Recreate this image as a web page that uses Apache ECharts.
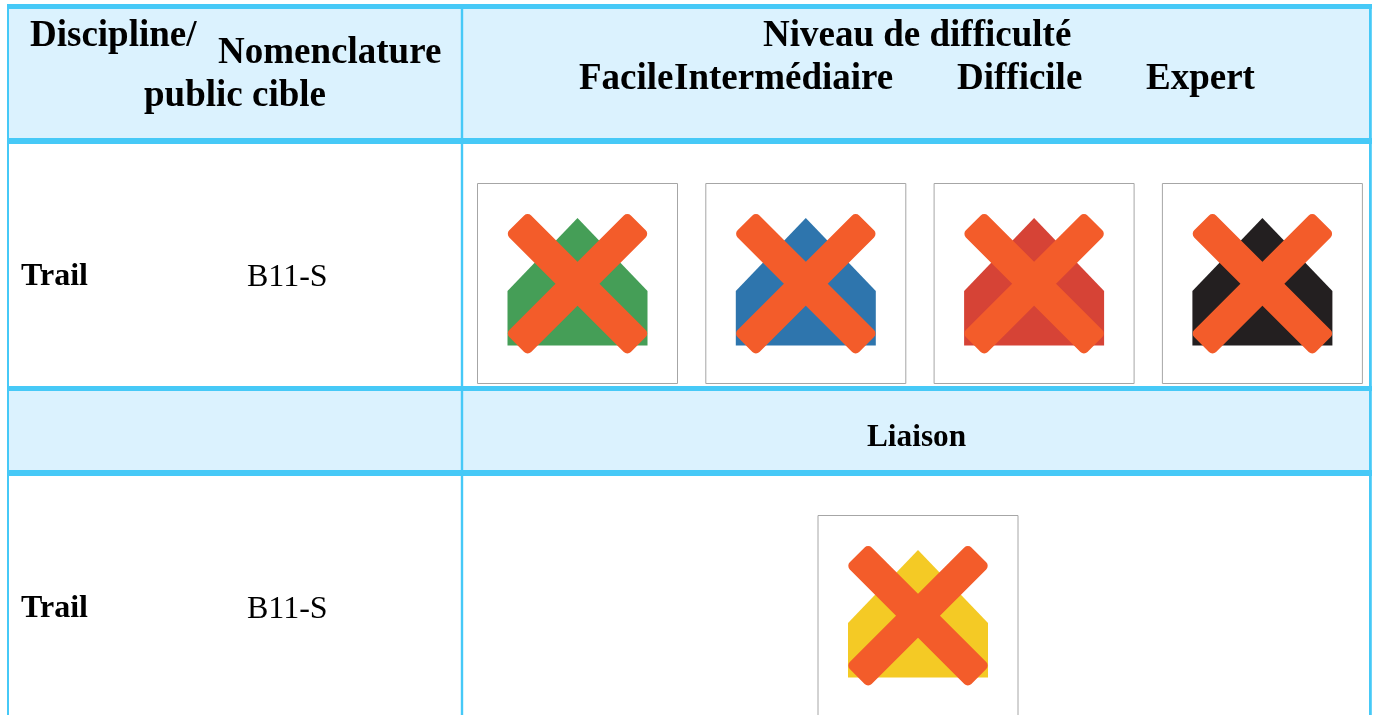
<!DOCTYPE html>
<html lang="fr">
<head>
    <meta charset="UTF-8">
    <title>Niveau de difficulté</title>
    <script src="https://cdn.jsdelivr.net/npm/echarts@6/dist/echarts.min.js"></script>
    <style>
        html, body { margin: 0; padding: 0; background: #fff; overflow: hidden; }
        #main { width: 1376px; height: 715px; }
    </style>
</head>
<body>
    <div id="main"></div>
    <script>
        // table content
        const levels = ['Facile', 'Intermédiaire', 'Difficile', 'Expert'];
        const levelColors = ['#459e57', '#2e75ad', '#d64336', '#231f20'];
        const liaisonColor = '#f4ca25';
        const crossColor = '#f35c2a';
        const discipline = 'Trail';
        const code = 'B11-S';

        // layout of the table, in page pixels
        const bandColor = '#dbf2fe';
        const ruleColor = '#46c9f7';
        const boxColor = '#a6a6a6';
        const leftX = 8, midX = 462, rightX = 1370.4;
        const bands = [[4, 141], [388, 473]];
        const rules = [
            [7, 6.5, 1372, 6.5, 5], [7, 141, 1372, 141, 6], [7, 388.5, 1372, 388.5, 5], [7, 473, 1372, 473, 6],
            [leftX, 4, leftX, 715, 2], [midX, 7, midX, 715, 2.4], [rightX, 4, rightX, 715, 2.8]
        ];
        const signs = levelColors.map((c, i) => ({ color: c, cx: 577.5 + 228.3 * i, top: 183.5 }))
            .concat([{ color: liaisonColor, cx: 918, top: 515.5 }]);
        const serif = '"Liberation Serif", "Times New Roman", serif';
        // text, x, baseline y, weight, size
        const labels = [
            ['Discipline/', 30, 47, 'bold', 37],
            ['Nomenclature', 218, 64, 'bold', 37],
            ['public cible', 144, 107, 'bold', 37],
            ['Niveau de difficulté', 763, 47, 'bold', 37],
            [levels[0], 579, 90, 'bold', 37],
            [levels[1], 674, 90, 'bold', 37],
            [levels[2], 957, 90, 'bold', 37],
            [levels[3], 1146, 90, 'bold', 37],
            [discipline, 21, 286, 'bold', 32],
            [code, 247, 287, 'normal', 32],
            ['Liaison', 867, 447, 'bold', 31.3],
            [discipline, 21, 618, 'bold', 32],
            [code, 247, 619, 'normal', 32]
        ];

        const chart = echarts.init(document.getElementById('main'), null, { renderer: 'canvas' });

        function pt(api, x, y) {
            return api.coord([x, y]);
        }

        function renderBand(params, api) {
            const b = bands[params.dataIndex];
            const a = pt(api, leftX, b[0]), c = pt(api, rightX, b[1]);
            return { type: 'rect', shape: { x: a[0], y: a[1], width: c[0] - a[0], height: c[1] - a[1] }, style: { fill: bandColor } };
        }

        function renderRule(params, api) {
            const r = rules[params.dataIndex];
            const a = pt(api, r[0], r[1]), b = pt(api, r[2], r[3]);
            return { type: 'line', shape: { x1: a[0], y1: a[1], x2: b[0], y2: b[1] }, style: { stroke: ruleColor, lineWidth: r[4] } };
        }

        function renderSign(params, api) {
            const s = signs[params.dataIndex];
            const cx = s.cx, top = s.top;
            const house = [[0, 34.5], [70, 107.5], [70, 162], [-70, 162], [-70, 107.5]]
                .map(p => pt(api, cx + p[0], top + p[1]));
            const centre = pt(api, cx, top + 100.2);
            const armLen = 172, armW = 31;
            const arm = rot => ({
                type: 'rect',
                x: centre[0], y: centre[1], rotation: rot,
                shape: { x: -armLen / 2, y: -armW / 2, width: armLen, height: armW, r: 5 },
                style: { fill: crossColor }
            });
            const tl = pt(api, cx - 100, top);
            return {
                type: 'group',
                children: [
                    { type: 'rect', shape: { x: tl[0], y: tl[1], width: 200, height: 200 }, style: { fill: '#fff', stroke: boxColor, lineWidth: 1 } },
                    { type: 'polygon', shape: { points: house }, style: { fill: s.color } },
                    arm(Math.PI / 4),
                    arm(-Math.PI / 4)
                ]
            };
        }

        function renderLabel(params, api) {
            const l = labels[params.dataIndex];
            // zrender puts the text about 0.79em under y with the alphabetic baseline
            const p = pt(api, l[1], l[2] - l[4] * 0.79);
            return {
                type: 'text', x: p[0], y: p[1],
                style: { text: l[0], fill: '#000', font: l[3] + ' ' + l[4] + 'px ' + serif, textAlign: 'left', textBaseline: 'alphabetic' }
            };
        }

        const option = {
            animation: false,
            backgroundColor: '#fff',
            grid: { left: 0, right: 0, top: 0, bottom: 0 },
            xAxis: { type: 'value', min: 0, max: 1376, show: false },
            yAxis: { type: 'value', min: 0, max: 715, inverse: true, show: false },
            series: [
                { type: 'custom', coordinateSystem: 'cartesian2d', silent: true, clip: false, z: 1, data: bands.map((b, i) => [i]), encode: { x: 0 }, renderItem: renderBand },
                { type: 'custom', coordinateSystem: 'cartesian2d', silent: true, clip: false, z: 2, data: rules.map((r, i) => [i]), encode: { x: 0 }, renderItem: renderRule },
                { type: 'custom', coordinateSystem: 'cartesian2d', silent: true, clip: false, z: 3, data: signs.map((s, i) => [i]), encode: { x: 0 }, renderItem: renderSign },
                { type: 'custom', coordinateSystem: 'cartesian2d', silent: true, clip: false, z: 4, data: labels.map((l, i) => [i]), encode: { x: 0 }, renderItem: renderLabel }
            ]
        };

        chart.setOption(option);
    </script>
</body>
</html>
